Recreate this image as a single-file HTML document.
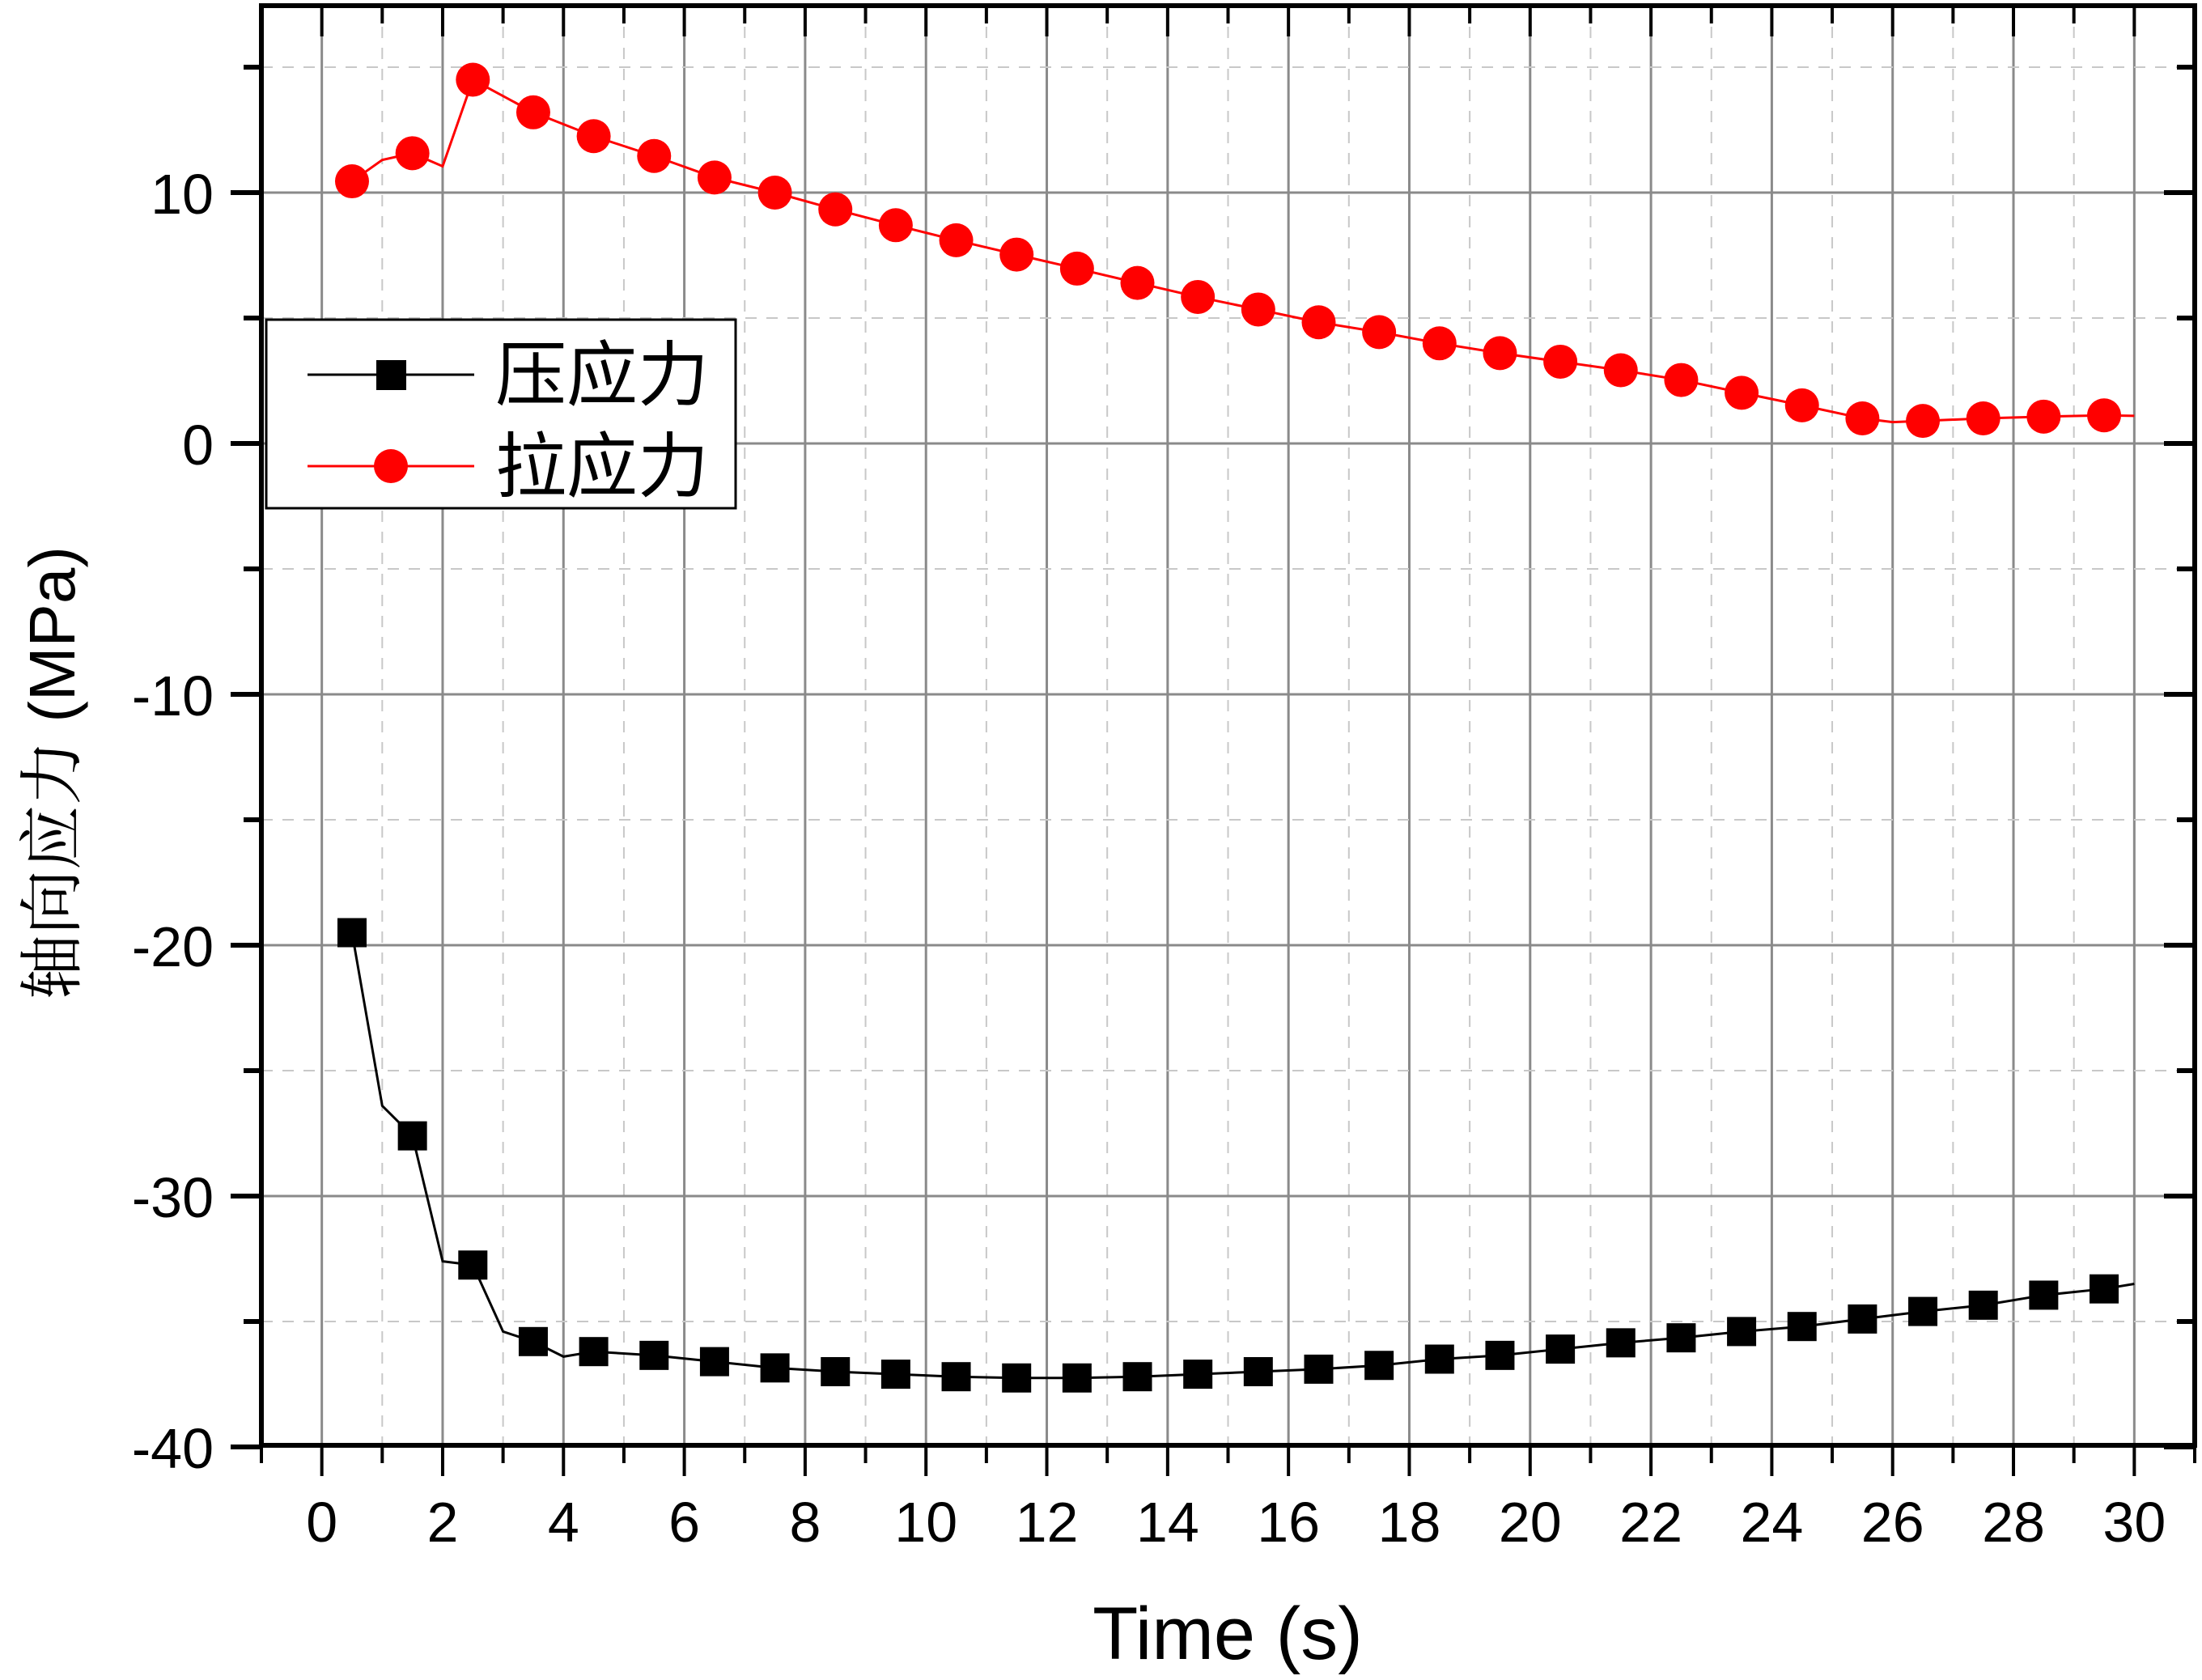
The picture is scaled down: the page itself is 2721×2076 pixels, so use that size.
<!DOCTYPE html>
<html><head><meta charset="utf-8"><style>
html,body{margin:0;padding:0;background:#fff;}
svg{display:block;}
text{font-family:"Liberation Sans","Noto Sans CJK SC",sans-serif;}
</style></head><body>
<svg id="chart" width="2721" height="2076" viewBox="0 0 2721 2076" xmlns="http://www.w3.org/2000/svg">
<g id="grid"></g>
<g id="series"></g>
<g id="axes"></g>
<text x="1517" y="2050" font-size="92" text-anchor="middle">Time (s)</text>
<text transform="translate(92,955) rotate(-90)" font-size="80" text-anchor="middle"><tspan font-family="Noto Serif CJK SC, serif">轴向应力</tspan> (MPa)</text>
<g>
<rect x="329" y="395" width="580" height="233" fill="#fff" stroke="#000" stroke-width="3"/>
<g>
<line x1="380" y1="463" x2="586" y2="463" stroke="#000" stroke-width="3"/>
<rect x="465" y="445" width="37" height="37" fill="#000"/>
<text x="612" y="494" font-size="88" font-family="Noto Serif CJK SC, serif">压应力</text>
</g>
<g>
<line x1="380" y1="576" x2="586" y2="576" stroke="#f00" stroke-width="3"/>
<circle cx="483" cy="576" r="21" fill="#f00"/>
<text x="612" y="607" font-size="88" font-family="Noto Serif CJK SC, serif">拉应力</text>
</g>
</g>
</svg>
<script>
const markerTimes=[0.5,1.5,2.5,3.5,4.5,5.5,6.5,7.5,8.5,9.5,10.5,11.5,12.5,13.5,14.5,15.5,16.5,17.5,18.5,19.5,20.5,21.5,22.5,23.5,24.5,25.5,26.5,27.5,28.5,29.5];
const tensileValues=[10.45,11.57,14.5,13.2,12.25,11.46,10.6,10.0,9.33,8.7,8.1,7.53,6.97,6.4,5.84,5.34,4.83,4.44,3.99,3.6,3.26,2.92,2.53,2.02,1.52,1.0,0.9,1.0,1.07,1.12];
const compressiveValues=[-19.5,-27.6,-32.75,-35.8,-36.2,-36.35,-36.6,-36.85,-37.0,-37.1,-37.2,-37.25,-37.25,-37.2,-37.1,-37.0,-36.9,-36.75,-36.5,-36.35,-36.1,-35.85,-35.65,-35.4,-35.2,-34.9,-34.6,-34.35,-33.95,-33.7];
const tensileExtraTimes=[1,2,26,30];
const tensileExtraValues=[11.3,11.05,0.85,1.1];
const compressiveExtraTimes=[1,2,3,4,30];
const compressiveExtraValues=[-26.4,-32.6,-35.4,-36.4,-33.5];
const xTickLabels=['0','2','4','6','8','10','12','14','16','18','20','22','24','26','28','30'];
const yTickLabels=['-40','-30','-20','-10','0','10'];

const NS='http://www.w3.org/2000/svg';
const X0=323,X1=2712,Y0=7,Y1=1786;
const xMin=-1,xMax=31;
function sx(t){return X0+(t-xMin)*(X1-X0)/(xMax-xMin);}
function sy(v){return 548-31*v;}
function mk(tag,attrs,parent){const e=document.createElementNS(NS,tag);for(const k in attrs)e.setAttribute(k,attrs[k]);parent.appendChild(e);return e;}
const grid=document.getElementById('grid'),axes=document.getElementById('axes'),series=document.getElementById('series');

// vertical grid
for(let t=0;t<=31;t++){
  const l=mk('line',{x1:sx(t),x2:sx(t),y1:Y0,y2:Y1,stroke:t%2?'#c8c8c8':'#8a8a8a','stroke-width':t%2?2:3},grid);
  if(t%2)l.setAttribute('stroke-dasharray','14,12');
  
  
}
for(let v=-35;v<=15;v+=5){
  const l=mk('line',{x1:X0,x2:X1,y1:sy(v),y2:sy(v),stroke:v%10?'#c8c8c8':'#8a8a8a','stroke-width':v%10?2:3},grid);
  if(v%10)l.setAttribute('stroke-dasharray','14,12');
  
  
}

function merge(ts,vs,et,ev){const a=ts.map((t,i)=>[t,vs[i]]).concat(et.map((t,i)=>[t,ev[i]]));a.sort((p,q)=>p[0]-q[0]);return a;}
function drawSeries(ts,vs,et,ev,color,shape,name){
  const pts=merge(ts,vs,et,ev).map(p=>sx(p[0])+','+sy(p[1])).join(' ');
  const pl=mk('polyline',{points:pts,fill:'none',stroke:color,'stroke-width':3},series);
  
  
  ts.forEach((t,i)=>{
    let m;
    if(shape==='square')m=mk('rect',{x:sx(t)-18,y:sy(vs[i])-18,width:36,height:36,fill:color},series);
    else m=mk('circle',{cx:sx(t),cy:sy(vs[i]),r:21,fill:color},series);
    
    
  });
}
drawSeries(markerTimes,tensileValues,tensileExtraTimes,tensileExtraValues,'#f00','circle','tensile-stress');
drawSeries(markerTimes,compressiveValues,compressiveExtraTimes,compressiveExtraValues,'#000','square','compressive-stress');

// frame
const fr=mk('rect',{x:X0,y:Y0,width:X1-X0,height:Y1-Y0,fill:'none',stroke:'#000','stroke-width':6},axes);


// x ticks
for(let t=-1;t<=31;t++){
  const major=t%2===0;const len=major?38:22;
  const b=mk('line',{x1:sx(t),x2:sx(t),y1:Y1,y2:Y1+len,stroke:'#000','stroke-width':4},axes);
  
  
  const tp=mk('line',{x1:sx(t),x2:sx(t),y1:Y0,y2:Y0+len,stroke:'#000','stroke-width':4},axes);
  
  
}
xTickLabels.forEach(s=>{
  const tx=mk('text',{x:sx(+s),y:1905,'font-size':70,'text-anchor':'middle'},axes);
  tx.textContent=s;
  
  
});
for(let v=-40;v<=15;v+=5){
  const major=v%10===0;const len=major?38:22;
  const l=mk('line',{x1:X0-len,x2:X0,y1:sy(v),y2:sy(v),stroke:'#000','stroke-width':6},axes);
  
  
  const r=mk('line',{x1:X1-len,x2:X1,y1:sy(v),y2:sy(v),stroke:'#000','stroke-width':6},axes);
  
  
}
yTickLabels.forEach(s=>{
  const tx=mk('text',{x:264,y:sy(+s)+26,'font-size':70,'text-anchor':'end'},axes);
  tx.textContent=s;
  
  
});
</script>
</body></html>
